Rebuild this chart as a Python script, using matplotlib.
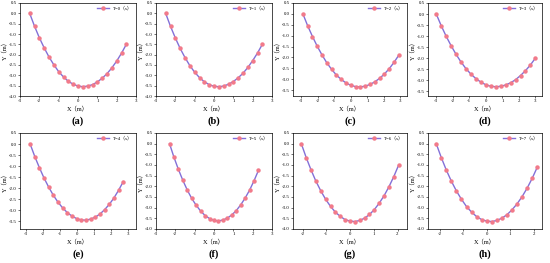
import matplotlib.pyplot as plt
import numpy as np

# chain node positions (m), T = 0..7 s
x_t0 = [-2.5, -2.25, -2.0, -1.75, -1.5, -1.25, -1.0, -0.75, -0.5, -0.25, 0.0,
        0.25, 0.5, 0.75, 1.0, 1.25, 1.5, 1.75, 2.0, 2.25, 2.5]
y_t0 = [0.0, -0.62, -1.18, -1.67, -2.11, -2.49, -2.82, -3.08, -3.29, -3.43, -3.52,
        -3.55, -3.52, -3.45, -3.32, -3.14, -2.92, -2.64, -2.31, -1.93, -1.50]

x_t1 = [-2.5, -2.25, -2.0, -1.75, -1.5, -1.25, -1.0, -0.75, -0.5, -0.25, 0.0,
        0.25, 0.5, 0.75, 1.0, 1.25, 1.5, 1.75, 2.0, 2.25, 2.5]
y_t1 = [0.0, -0.63, -1.19, -1.70, -2.14, -2.53, -2.85, -3.11, -3.31, -3.45, -3.53,
        -3.55, -3.52, -3.43, -3.30, -3.12, -2.90, -2.62, -2.29, -1.92, -1.50]

x_t2 = [-2.9, -2.61, -2.32, -2.03, -1.74, -1.45, -1.16, -0.87, -0.58, -0.29, 0.0,
        0.29, 0.58, 0.87, 1.16, 1.45, 1.74, 2.03, 2.32, 2.61, 2.9]
y_t2 = [0.0, -0.55, -1.04, -1.49, -1.89, -2.25, -2.55, -2.81, -3.01, -3.17, -3.28,
        -3.34, -3.35, -3.32, -3.24, -3.12, -2.96, -2.76, -2.52, -2.23, -1.90]

x_t3 = [-3.0, -2.7, -2.4, -2.1, -1.8, -1.5, -1.2, -0.9, -0.6, -0.3, 0.0,
        0.3, 0.6, 0.9, 1.2, 1.5, 1.8, 2.1, 2.4, 2.7, 3.0]
y_t3 = [0.0, -0.53, -1.01, -1.44, -1.83, -2.18, -2.48, -2.73, -2.93, -3.09, -3.21,
        -3.28, -3.30, -3.28, -3.22, -3.12, -2.98, -2.79, -2.57, -2.31, -2.00]

x_t4 = [-2.75, -2.475, -2.2, -1.925, -1.65, -1.375, -1.1, -0.825, -0.55, -0.275, 0.0,
        0.275, 0.55, 0.825, 1.1, 1.375, 1.65, 1.925, 2.2, 2.475, 2.75]
y_t4 = [0.0, -0.57, -1.08, -1.55, -1.96, -2.33, -2.64, -2.90, -3.11, -3.27, -3.38,
        -3.44, -3.45, -3.40, -3.31, -3.17, -2.97, -2.73, -2.44, -2.09, -1.70]

x_t5 = [-2.3, -2.07, -1.84, -1.61, -1.38, -1.15, -0.92, -0.69, -0.46, -0.23, 0.0,
        0.23, 0.46, 0.69, 0.92, 1.15, 1.38, 1.61, 1.84, 2.07, 2.3]
y_t5 = [0.0, -0.64, -1.21, -1.72, -2.18, -2.57, -2.89, -3.16, -3.37, -3.51, -3.60,
        -3.62, -3.58, -3.49, -3.34, -3.14, -2.87, -2.55, -2.18, -1.74, -1.25]

x_t6 = [-2.05, -1.845, -1.64, -1.435, -1.23, -1.025, -0.82, -0.615, -0.41, -0.205, 0.0,
        0.205, 0.41, 0.615, 0.82, 1.025, 1.23, 1.435, 1.64, 1.845, 2.05]
y_t6 = [0.0, -0.65, -1.23, -1.76, -2.21, -2.61, -2.94, -3.21, -3.41, -3.56, -3.63,
        -3.65, -3.60, -3.49, -3.32, -3.09, -2.79, -2.44, -2.02, -1.54, -1.00]

x_t7 = [-2.15, -1.935, -1.72, -1.505, -1.29, -1.075, -0.86, -0.645, -0.43, -0.215, 0.0,
        0.215, 0.43, 0.645, 0.86, 1.075, 1.29, 1.505, 1.72, 1.935, 2.15]
y_t7 = [0.0, -0.65, -1.24, -1.76, -2.22, -2.61, -2.95, -3.21, -3.42, -3.56, -3.63,
        -3.65, -3.60, -3.49, -3.33, -3.10, -2.82, -2.48, -2.08, -1.62, -1.10]

series = [(x_t0, y_t0), (x_t1, y_t1), (x_t2, y_t2), (x_t3, y_t3),
          (x_t4, y_t4), (x_t5, y_t5), (x_t6, y_t6), (x_t7, y_t7)]
legend_labels = [f"T={i}（s）" for i in range(8)]
panel_labels = ["(a)", "(b)", "(c)", "(d)", "(e)", "(f)", "(g)", "(h)"]

xlims = [(-3, 3), (-3, 3), (-3.5, 3.4), (-3.5, 3.4),
         (-3.35, 3.5), (-3, 3), (-2.4, 2.4), (-2.5, 2.35)]
ylims = [(-4, 0.5), (-4, 0.5), (-3.77, 0.5), (-3.72, 0.5),
         (-3.85, 0.5), (-4, 0.5), (-4, 0.5), (-4, 0.5)]
xticks = [np.arange(-3, 4), np.arange(-3, 4), np.arange(-3, 4), np.arange(-3, 4),
          np.arange(-3, 4), np.arange(-3, 4), np.arange(-2, 3), np.arange(-2, 3)]

FONT = ["Liberation Serif", "Noto Sans CJK SC"]
LINE_C = "#8370d8"
MARK_C = "#f27a8a"

W, H = 550, 263
fig = plt.figure(figsize=(W / 100, H / 100), dpi=100)

# axes boxes in pixels: left, right / top, bottom
cols = [(20, 136), (156, 272), (293, 407), (428, 542)]
rows = [(3, 96), (133, 229)]

for i, (xs, ys) in enumerate(series):
    r, c = divmod(i, 4)
    l, rr = cols[c]
    t, b = rows[r]
    ax = fig.add_axes([l / W, 1 - b / H, (rr - l) / W, (b - t) / H])
    ax.plot(xs, ys, color=LINE_C, lw=1.0, marker="o", ms=2.2,
            mfc=MARK_C, mec=MARK_C, label=legend_labels[i])
    ax.set_xlim(*xlims[i])
    ax.set_ylim(*ylims[i])
    ax.set_xticks(xticks[i])
    yt = np.arange(0.5, ylims[i][0] - 0.01, -0.5)
    ax.set_yticks(yt)
    ax.set_yticklabels([f"{v:.1f}" for v in yt], family=FONT)
    ax.set_xticklabels([str(v) for v in xticks[i]], family=FONT)
    ax.tick_params(labelsize=3.5, length=1.5, width=0.4, pad=1)
    for s in ax.spines.values():
        s.set_linewidth(0.5)
    ax.set_xlabel("X（m）", fontsize=4.5, family=FONT, labelpad=1.5)
    ax.set_ylabel("Y（m）", fontsize=4.5, family=FONT, labelpad=1)
    ax.legend(loc="upper right", frameon=False, handlelength=2.5,
              borderaxespad=0.3, prop={"family": FONT, "size": 3.5})
    fig.text((l + rr) / 2 / W, 1 - (b + 25) / H, panel_labels[i],
             ha="center", va="center", fontsize=7.5, fontweight="bold",
             family="Liberation Serif")

fig.savefig("out.png", dpi=100)
